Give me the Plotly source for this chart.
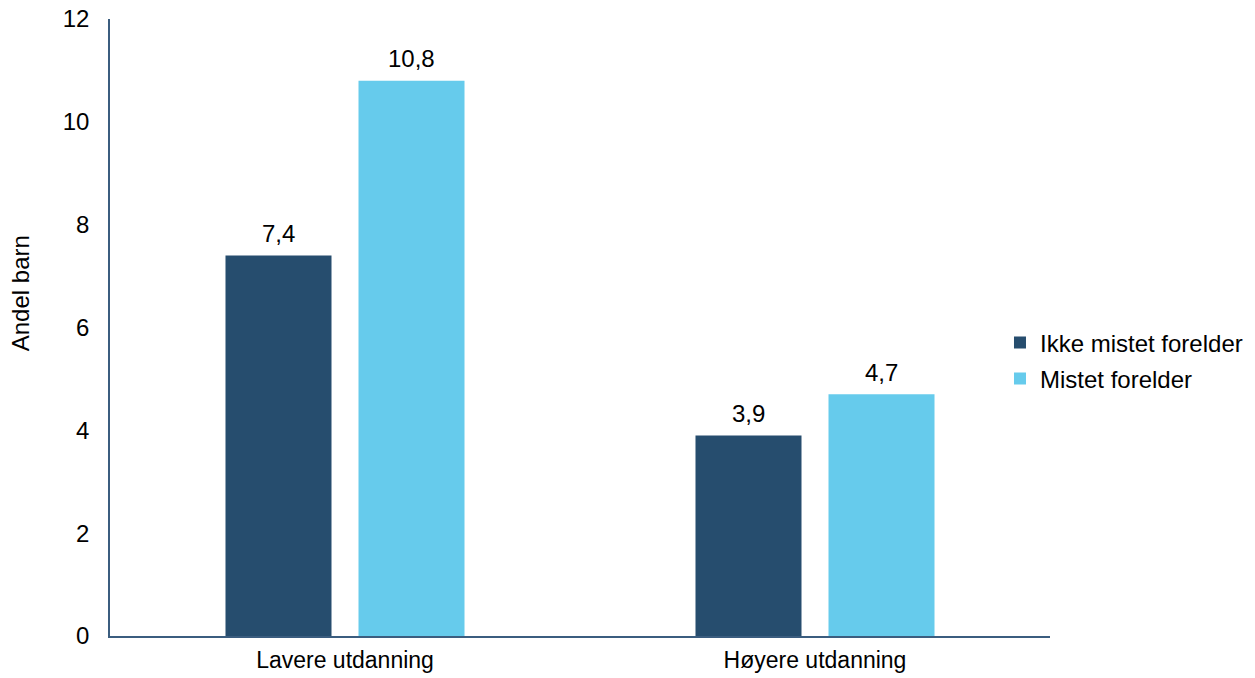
import plotly.graph_objects as go

categories = ["Lavere utdanning", "Høyere utdanning"]
ikke_mistet = [7.4, 3.9]
mistet = [10.8, 4.7]
series_names = ["Ikke mistet forelder", "Mistet forelder"]
y_title = "Andel barn"
y_ticks = [0, 2, 4, 6, 8, 10, 12]

FONT = "Liberation Sans, Arial, sans-serif"
DARK = "#264d6e"
LIGHT = "#66cbec"
AXIS = "#3b5d7f"
FS = 24

fig = go.Figure()
fig.add_trace(go.Bar(
    x=categories, y=ikke_mistet, name=series_names[0],
    marker=dict(color=DARK, line=dict(width=0)), legendgroup="a",
))
fig.add_trace(go.Bar(
    x=categories, y=mistet, name=series_names[1],
    marker=dict(color=LIGHT, line=dict(width=0)), legendgroup="b",
))

annotations = []
for vals, shift in ((ikke_mistet, -66.5), (mistet, 66.5)):
    for cat, v in zip(categories, vals):
        annotations.append(dict(
            x=cat, y=v, xref="x", yref="y", text=f"{v:.1f}".replace(".", ","),
            showarrow=False, xshift=shift, yshift=22, yanchor="middle",
            font=dict(size=FS, family=FONT, color="#000000"),
        ))
annotations.append(dict(
    text=y_title, textangle=-90, xref="paper", yref="paper",
    x=-0.095, y=0.555, xanchor="center", yanchor="middle",
    showarrow=False, font=dict(size=FS, family=FONT, color="#000000"),
))

fig.update_layout(
    width=1255, height=678,
    margin=dict(l=110, r=205, t=19, b=42, autoexpand=False),
    paper_bgcolor="white", plot_bgcolor="white",
    font=dict(family=FONT, size=FS, color="#000000"),
    separators=", ",
    barmode="group", bargap=0.434, bargroupgap=0.203,
    showlegend=True,
    legend=dict(x=0.9468, xanchor="left", y=0.446, yanchor="middle",
                font=dict(size=FS, family=FONT, color="#000000"),
                tracegroupgap=2, bgcolor="rgba(0,0,0,0)"),
    annotations=annotations,
)
fig.update_xaxes(
    showline=True, linecolor=AXIS, linewidth=1.5, ticks="",
    showgrid=False, ticklabelstandoff=3, automargin=False,
    tickfont=dict(size=23),
)
fig.update_yaxes(
    range=[0, 12], tickvals=y_ticks, showline=True, linecolor=AXIS,
    linewidth=1.5, ticks="", showgrid=False, zeroline=False,
    ticklabelstandoff=14, automargin=False,
)

fig.write_html("out.html")
